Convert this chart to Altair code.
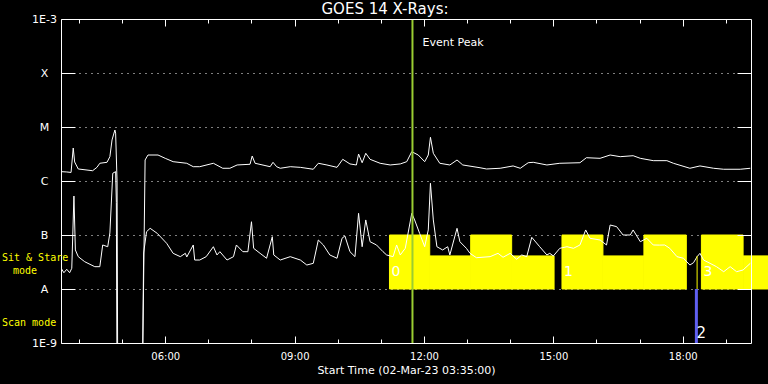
import json
import altair as alt
import pandas as pd

# ---------------- data ----------------
TITLE = "GOES 14 X-Rays:"
X_TITLE = "Start Time (02-Mar-23 03:35:00)"
X_START, X_END = "03:35", "19:35"
HOUR_TICKS = list(range(4, 20))
HOUR_LABELS = [6, 9, 12, 15, 18]
Y_TICKS = [1e-9, 1e-8, 1e-7, 1e-6, 1e-5, 1e-4, 1e-3]
Y_LABELS = ["1E-9", "A", "B", "C", "M", "X", "1E-3"]

upper_time = ["03:35","03:43","03:49","03:52","03:54","03:59","04:19","04:25","04:29","04:39",
              "04:43","04:46","04:50","04:51","04:53","04:54","05:28","05:32","05:36","05:50",
              "06:00","06:11","06:30","06:39","06:48","07:07","07:20","07:30","07:40","07:58",
              "08:01","08:05","08:26","08:30","08:35","08:40","08:54","09:08","09:26","09:33",
              "09:45","09:59","10:07","10:17","10:26","10:29","10:34","10:39","10:45","10:59",
              "11:13","11:27","11:36","11:43","11:52","12:01","12:06","12:09","12:13","12:22",
              "12:36","12:46","12:54","13:18","13:27","13:46","14:04","14:14","14:25","14:32",
              "14:51","15:09","15:37","15:46","16:05","16:19","16:33","16:51","17:01","17:19",
              "17:38","17:47","18:10","18:24","18:43","18:57","19:20","19:34"]
upper_flux = [1.49e-6,1.47e-6,1.44e-6,4.08e-6,2.25e-6,1.67e-6,1.55e-6,1.79e-6,2.13e-6,2.22e-6,
              2.82e-6,5.75e-6,8.8e-6,7.7e-6,1.0e-6,1e-10,1e-10,2.45e-6,3.03e-6,3.03e-6,
              2.63e-6,2.28e-6,2.13e-6,1.84e-6,1.84e-6,2.13e-6,1.72e-6,1.72e-6,1.98e-6,2.04e-6,
              2.90e-6,2.13e-6,1.84e-6,2.22e-6,1.84e-6,1.72e-6,1.84e-6,1.79e-6,1.65e-6,2.13e-6,
              1.98e-6,1.79e-6,2.52e-6,2.07e-6,1.98e-6,3.16e-6,2.18e-6,3.26e-6,2.52e-6,2.13e-6,
              1.98e-6,2.07e-6,2.28e-6,3.49e-6,3.03e-6,2.28e-6,3.03e-6,6.45e-6,3.26e-6,2.13e-6,
              1.98e-6,2.45e-6,1.98e-6,1.76e-6,1.67e-6,1.72e-6,1.90e-6,1.72e-6,2.18e-6,2.22e-6,
              1.98e-6,2.13e-6,2.18e-6,2.70e-6,2.63e-6,3.03e-6,2.82e-6,2.94e-6,2.63e-6,2.38e-6,
              2.38e-6,2.13e-6,1.72e-6,1.90e-6,1.72e-6,1.65e-6,1.65e-6,1.72e-6]

lower_time = ["03:35","03:39","03:43","03:47","03:50","03:53","03:55","03:59","04:08","04:22",
              "04:29","04:33","04:40","04:43","04:47","04:51","04:52","04:53","05:28","05:30",
              "05:34","05:39","05:49","06:02","06:11","06:21","06:28","06:30","06:39","06:41",
              "06:48","06:57","07:07","07:12","07:16","07:26","07:35","07:39","07:48","07:55",
              "08:00","08:03","08:12","08:21","08:29","08:31","08:40","08:54","09:08","09:17",
              "09:26","09:33","09:40","09:49","09:59","10:06","10:10","10:17","10:24","10:29",
              "10:34","10:39","10:45","10:54","11:03","11:08","11:17","11:22","11:27","11:34",
              "11:43","11:47","11:54","12:01","12:06","12:09","12:13","12:18","12:26","12:33",
              "12:36","12:46","12:50","12:59","13:04","13:13","13:32","13:43","13:50","14:00",
              "14:09","14:16","14:23","14:30","14:41","14:51","14:55","15:00","15:09","15:19",
              "15:28","15:37","15:45","15:51","16:05","16:14","16:19","16:28","16:37","16:47",
              "16:51","17:01","17:10","17:19","17:28","17:35","17:42","17:52","18:01","18:10",
              "18:15","18:20","18:24","18:29","18:38","18:47","18:57","19:06","19:15","19:24",
              "19:34"]
lower_flux = [2.45e-8,2.00e-8,2.32e-8,2.00e-8,2.42e-8,5.27e-7,5.28e-8,3.97e-8,3.2e-8,2.59e-8,
              2.59e-8,6.53e-8,6.07e-8,1.09e-7,1.39e-6,1.49e-6,4.0e-7,1e-10,1e-10,4.64e-8,
              1.15e-7,1.33e-7,1.07e-7,7.02e-8,4.58e-8,3.97e-8,4.58e-8,3.92e-8,6.53e-8,3.44e-8,
              3.44e-8,3.97e-8,6.07e-8,4.27e-8,4.91e-8,3.44e-8,3.97e-8,6.53e-8,4.91e-8,4.91e-8,
              1.76e-7,5.67e-8,4.58e-8,3.71e-8,9.3e-8,4.27e-8,3.44e-8,3.97e-8,3.44e-8,2.78e-8,
              2.99e-8,8.08e-8,6.53e-8,4.27e-8,3.71e-8,8.69e-8,9.6e-8,4.91e-8,3.97e-8,2.52e-7,
              6.07e-8,1.90e-7,7.51e-8,6.53e-8,4.91e-8,4.27e-8,3.97e-8,6.53e-8,4.27e-8,5.67e-8,
              2.52e-7,1.90e-7,1.07e-7,6.07e-8,1.24e-7,9.07e-7,1.90e-7,6.07e-8,5.28e-8,6.07e-8,
              4.27e-8,1.33e-7,7.51e-8,5.67e-8,4.58e-8,3.80e-8,3.97e-8,4.58e-8,3.87e-8,4.58e-8,
              3.55e-8,4.27e-8,3.97e-8,9.06e-8,6.07e-8,4.27e-8,4.58e-8,4.09e-8,5.67e-8,6.07e-8,
              5.67e-8,6.53e-8,1.24e-7,8.69e-8,8.08e-8,6.53e-8,1.53e-7,1.43e-7,1.0e-7,1.0e-7,
              1.24e-7,7.51e-8,8.69e-8,6.53e-8,6.5e-8,6.53e-8,5.67e-8,3.97e-8,3.71e-8,2.78e-8,
              3.07e-8,3.97e-8,4.58e-8,3.44e-8,2.99e-8,2.59e-8,2.09e-8,2.59e-8,2.09e-8,2.25e-8,
              2.99e-8]

# observing-mode blocks (Sit & Stare)
block_start = ["11:12","12:08","13:05","14:02","15:12","16:09","17:06","18:26","19:24"]
block_end   = ["12:08","13:05","14:02","15:01","16:09","17:06","18:05","19:24","19:59"]
block_top   = [1e-7, 4.1e-8, 1e-7, 4.1e-8, 1e-7, 4.1e-8, 1e-7, 1e-7, 4.1e-8]
block_bottom = [1e-8] * 9

event_label = ["0", "1", "3"]
event_time = ["11:12", "15:12", "18:26"]
event_level = [2.07e-8, 2.07e-8, 2.07e-8]

peak_time = ["11:44"]
peak_label = ["Event Peak"]
peak_level = [3.6e-4]

scan_time = ["18:19"]
scan_label = ["2"]
scan_from, scan_to = [1e-8], [1e-9]
scan_text_level = [1.53e-9]
marker_time = ["18:20"]
marker_from, marker_to = [1e-8], [4.1e-8]

MODE_TEXT = ["Sit & Stare", "mode", "Scan mode"]


def hrs(t):
    h, m = t.split(":")
    return int(h) + int(m) / 60.0


up_df = pd.DataFrame({"h": [hrs(t) for t in upper_time], "flux": upper_flux})
lo_df = pd.DataFrame({"h": [hrs(t) for t in lower_time], "flux": lower_flux})
blk_df = pd.DataFrame({"start": [hrs(t) for t in block_start], "end": [hrs(t) for t in block_end],
                       "top": block_top, "bottom": block_bottom})
ev_df = pd.DataFrame({"h": [hrs(t) for t in event_time], "lvl": event_level, "label": event_label})
pk_df = pd.DataFrame({"h": [hrs(t) for t in peak_time], "lvl": peak_level, "label": peak_label})
sc_df = pd.DataFrame({"h": [hrs(t) for t in scan_time], "a": scan_from, "b": scan_to,
                      "lvl": scan_text_level, "label": scan_label})
mk_df = pd.DataFrame({"h": [hrs(t) for t in marker_time], "a": marker_from, "b": marker_to})

# ---------------- styling ----------------
W, H = 690, 324
FONT = "DejaVu Sans"
MONO = "DejaVu Sans Mono"

xs = alt.Scale(domain=[hrs(X_START), hrs(X_END)], nice=False, zero=False)
ys = alt.Scale(type="log", domain=[Y_TICKS[0], Y_TICKS[-1]], nice=False)

x_lbl = "(datum.value < 10 ? '0' : '') + datum.value + ':00'"
y_lbl = json.dumps(Y_LABELS) + "[round(log(datum.value)/LN10) + 9]"
tick_size = {"condition": {"test": "datum.value % 3 === 0", "value": 7}, "value": 4}

x_main = alt.Axis(orient="bottom", values=HOUR_LABELS, labelExpr=x_lbl, ticks=False, grid=False,
                  domain=True, domainColor="white", labelColor="white", labelFont=FONT,
                  labelFontSize=10, labelPadding=8, labelFlush=False, title=X_TITLE,
                  titleColor="white", titleFont=FONT, titleFontSize=11, titleFontWeight="normal",
                  titlePadding=3)
y_main = alt.Axis(orient="left", values=Y_TICKS, labelExpr=y_lbl, ticks=False, grid=True,
                  gridColor="white", gridDash=[1, 5], gridWidth=1, gridOpacity=1,
                  domain=True, domainColor="white", labelColor="white", labelFont=FONT,
                  labelFontSize=11, labelAlign="center", labelBaseline="middle",
                  labelPadding=17, title=None)
x_ticks_bottom = alt.Axis(orient="top", offset=-H, values=HOUR_TICKS, labels=False, domain=False,
                          grid=False, tickColor="white", tickSize=tick_size, title=None, zindex=1)
x_ticks_top = alt.Axis(orient="bottom", offset=-H, values=HOUR_TICKS, labels=False, domain=True,
                       domainColor="white", grid=False, tickColor="white", tickSize=tick_size,
                       title=None, zindex=1)
y_ticks_left = alt.Axis(orient="right", offset=-W, values=Y_TICKS[1:-1], labels=False,
                        domain=False, grid=False, tickColor="white", tickSize=14, title=None,
                        zindex=1)
y_ticks_right = alt.Axis(orient="left", offset=-W, values=Y_TICKS[1:-1], labels=False,
                         domain=True, domainColor="white", grid=False, tickColor="white",
                         tickSize=14, title=None, zindex=1)

blocks = alt.Chart(blk_df).mark_rect(color="#ffff00", stroke="#ffff00", strokeWidth=1,
                                     clip=False).encode(
    x=alt.X("start:Q", scale=xs, axis=x_ticks_top), x2="end:Q",
    y=alt.Y("bottom:Q", scale=ys, axis=y_ticks_right), y2="top:Q")

upper = alt.Chart(up_df).mark_line(color="white", strokeWidth=1, clip=True).encode(
    x=alt.X("h:Q", scale=xs, axis=x_main), y=alt.Y("flux:Q", scale=ys, axis=y_main))

lower = alt.Chart(lo_df).mark_line(color="white", strokeWidth=1, clip=True).encode(
    x=alt.X("h:Q", scale=xs, axis=x_ticks_bottom), y=alt.Y("flux:Q", scale=ys, axis=y_ticks_left))

ev_text = alt.Chart(ev_df).mark_text(align="left", baseline="middle", dx=2, color="white",
                                     font=FONT, fontSize=14).encode(
    x=alt.X("h:Q", scale=xs, axis=None), y=alt.Y("lvl:Q", scale=ys, axis=None), text="label:N")

peak_rule = alt.Chart(pk_df).mark_rule(color="#9acd32", strokeWidth=2).encode(
    x=alt.X("h:Q", scale=xs, axis=None))
peak_text = alt.Chart(pk_df).mark_text(align="left", baseline="middle", dx=10, color="white",
                                       font=FONT, fontSize=11).encode(
    x=alt.X("h:Q", scale=xs, axis=None), y=alt.Y("lvl:Q", scale=ys, axis=None), text="label:N")

marker_rule = alt.Chart(mk_df).mark_rule(color="#ffff00", strokeWidth=1).encode(
    x=alt.X("h:Q", scale=xs, axis=None), y=alt.Y("a:Q", scale=ys, axis=None), y2="b:Q")
scan_rule = alt.Chart(sc_df).mark_rule(color="#5f5ff0", strokeWidth=3).encode(
    x=alt.X("h:Q", scale=xs, axis=None), y=alt.Y("a:Q", scale=ys, axis=None), y2="b:Q")
scan_text = alt.Chart(sc_df).mark_text(align="left", baseline="middle", dx=0, color="white",
                                       font=FONT, fontSize=15).encode(
    x=alt.X("h:Q", scale=xs, axis=None), y=alt.Y("lvl:Q", scale=ys, axis=None), text="label:N")

def fixed_text(txt, x, y, color, font, size, align="left"):
    return alt.Chart(sc_df).mark_text(align=align, baseline="middle", color=color, font=font,
                                      fontSize=size).encode(
        x=alt.value(x), y=alt.value(y), text=alt.value(txt))

mode1 = fixed_text(MODE_TEXT[0], -59, 239, "#ffff00", MONO, 10)
mode2 = fixed_text(MODE_TEXT[1], -48, 252, "#ffff00", MONO, 10)
mode3 = fixed_text(MODE_TEXT[2], -59, 304, "#ffff00", MONO, 10)
title = fixed_text(TITLE, 324, -10, "white", FONT, 15, align="center")

chart = alt.layer(
    blocks, upper, lower, ev_text, peak_rule, peak_text, marker_rule, scan_rule, scan_text,
    mode1, mode2, mode3, title
).resolve_axis(x="independent", y="independent").properties(
    width=W, height=H,
    background="black",
    padding={"left": 61, "top": 19, "right": 17, "bottom": 41},
    autosize=alt.AutoSizeParams(type="none"),
).configure_view(strokeWidth=0)

chart.save("out.html", embed_options={"renderer": "svg", "actions": False})
